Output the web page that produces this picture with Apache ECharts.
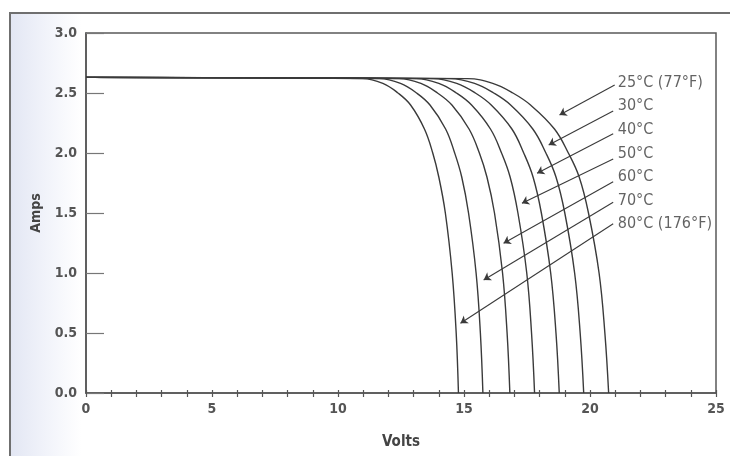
<!DOCTYPE html>
<html>
<head>
<meta charset="utf-8">
<script src="https://cdn.jsdelivr.net/npm/echarts@6/dist/echarts.min.js"></script>
<style>
  html, body { margin: 0; padding: 0; background: #ffffff; }
  #chart { width: 730px; height: 456px; }
</style>
</head>
<body>
<div id="chart"></div>
<script>
// Current levels (Amps) shared by every curve
var ampLevels = [2.63, 2.62, 2.58, 2.5, 2.4, 2.2, 2.0, 1.8, 1.5, 1.0, 0.5, 0.0];
// Voltage at each current level, one array per temperature
var volts80 = [0, 10.98, 11.78, 12.38, 12.88, 13.43, 13.76, 14.00, 14.26, 14.53, 14.69, 14.78];
var volts70 = [0, 11.65, 12.48, 13.12, 13.65, 14.27, 14.63, 14.91, 15.18, 15.48, 15.65, 15.75];
var volts60 = [0, 12.42, 13.29, 13.95, 14.52, 15.20, 15.61, 15.91, 16.21, 16.53, 16.71, 16.82];
var volts50 = [0, 13.10, 14.00, 14.70, 15.30, 16.05, 16.49, 16.83, 17.14, 17.49, 17.68, 17.80];
var volts40 = [0, 13.78, 14.71, 15.45, 16.08, 16.90, 17.37, 17.74, 18.07, 18.44, 18.65, 18.78];
var volts30 = [0, 14.45, 15.42, 16.18, 16.85, 17.73, 18.25, 18.65, 19.00, 19.39, 19.61, 19.75];
var volts25 = [0, 15.14, 16.14, 16.94, 17.64, 18.59, 19.14, 19.57, 19.94, 20.36, 20.59, 20.74];

var curveNames = ['80°C', '70°C', '60°C', '50°C', '40°C', '30°C', '25°C'];
var curveVolts = [volts80, volts70, volts60, volts50, volts40, volts30, volts25];

// Annotation labels and arrows (data coordinates)
var labelTexts = ['25°C (77°F)', '30°C', '40°C', '50°C', '60°C', '70°C', '80°C (176°F)'];
var labelX = [21.1, 21.1, 21.1, 21.1, 21.1, 21.1, 21.1];
var labelY = [2.583, 2.392, 2.192, 1.992, 1.80, 1.604, 1.408];
var arrowStartX = [20.98, 20.92, 20.92, 20.92, 20.92, 20.92, 20.92];
var arrowStartY = [2.567, 2.35, 2.16, 1.95, 1.76, 1.59, 1.41];
var arrowEndX = [18.79, 18.36, 17.90, 17.30, 16.57, 15.78, 14.86];
var arrowEndY = [2.317, 2.067, 1.831, 1.581, 1.248, 0.942, 0.581];

var FONT = '"DejaVu Sans Condensed", "DejaVu Sans", sans-serif';

var chart = echarts.init(document.getElementById('chart'), null, { renderer: 'canvas' });

var series = curveVolts.map(function (vs, i) {
  return {
    name: curveNames[i],
    type: 'line',
    xAxisIndex: 0,
    yAxisIndex: 0,
    data: vs.map(function (v, j) { return [v, ampLevels[j]]; }),
    showSymbol: false,
    smooth: 0.4,
    lineStyle: { color: '#3a3a3a', width: 1.4 },
    silent: true,
    z: 3
  };
});

series.push({
  name: 'arrows',
  type: 'lines',
  coordinateSystem: 'cartesian2d',
  xAxisIndex: 0,
  yAxisIndex: 0,
  symbol: ['none', 'arrow'],
  symbolSize: 7,
  lineStyle: { color: '#3a3a3a', width: 1.1, opacity: 1 },
  data: arrowEndX.map(function (x, i) {
    return { coords: [[arrowStartX[i], arrowStartY[i]], [x, arrowEndY[i]]] };
  }),
  silent: true,
  z: 4
});

series.push({
  name: 'labels',
  type: 'scatter',
  xAxisIndex: 0,
  yAxisIndex: 0,
  symbolSize: 0,
  data: labelTexts.map(function (t, i) { return { name: t, value: [labelX[i], labelY[i]] }; }),
  label: {
    show: true,
    position: [0, 0],
    align: 'left',
    verticalAlign: 'middle',
    formatter: function (p) { return p.name; },
    fontFamily: FONT,
    fontSize: 16,
    color: '#3c3c3c'
  },
  silent: true,
  z: 5
});

var option = {
  animation: false,
  backgroundColor: '#ffffff',
  graphic: [
    {
      type: 'rect',
      left: 9, top: 12,
      shape: { width: 722, height: 446 },
      style: {
        fill: {
          type: 'linear', x: 0, y: 0, x2: 1, y2: 0,
          colorStops: [
            { offset: 0, color: '#e2e6f3' },
            { offset: 0.05, color: '#f1f3fa' },
            { offset: 0.1, color: '#ffffff' },
            { offset: 1, color: '#ffffff' }
          ]
        },
        stroke: '#6f6f6f',
        lineWidth: 2
      },
      z: -10,
      silent: true
    }
  ],
  grid: {
    left: 86, right: 14, top: 33, bottom: 63,
    show: true,
    borderColor: '#5a5a5a',
    borderWidth: 1.5,
    backgroundColor: 'transparent'
  },
  xAxis: [
    {
      type: 'value',
      min: 0, max: 25, interval: 5,
      name: 'Volts',
      nameLocation: 'middle',
      nameGap: 42,
      nameTextStyle: { fontFamily: FONT, fontSize: 15, fontWeight: 'bold', color: '#444' },
      axisLine: { show: true, onZero: false, lineStyle: { color: '#555', width: 1.5 } },
      axisTick: { show: true, length: 4, lineStyle: { color: '#555', width: 1.2 } },
      minorTick: { show: true, splitNumber: 5, length: 4, lineStyle: { color: '#555', width: 1.2 } },
      axisLabel: { margin: 9, fontFamily: FONT, fontSize: 14, fontWeight: 'bold', color: '#555' },
      splitLine: { show: false }
    },
    {
      type: 'value',
      min: 0, max: 25, interval: 5,
      position: 'bottom',
      axisLine: { show: false },
      axisTick: { show: true, inside: true, length: 3, lineStyle: { color: '#555', width: 1.2 } },
      minorTick: { show: true, splitNumber: 5, length: 3, lineStyle: { color: '#555', width: 1.2 } },
      axisLabel: { show: false },
      splitLine: { show: false }
    }
  ],
  yAxis: {
    type: 'value',
    min: 0, max: 3, interval: 0.5,
    name: 'Amps',
    nameLocation: 'middle',
    nameGap: 40,
    nameRotate: 90,
    nameTextStyle: { fontFamily: FONT, fontSize: 14, fontWeight: 'bold', color: '#444' },
    axisLine: { show: true, onZero: false, lineStyle: { color: '#555', width: 1.5 } },
    axisTick: { show: true, inside: true, length: 18, lineStyle: { color: '#777', width: 1.2 } },
    axisLabel: {
      margin: 9, fontFamily: FONT, fontSize: 14, fontWeight: 'bold', color: '#555',
      formatter: function (v) { return v.toFixed(1); }
    },
    splitLine: { show: false }
  },
  series: series
};

chart.setOption(option);
</script>
</body>
</html>
